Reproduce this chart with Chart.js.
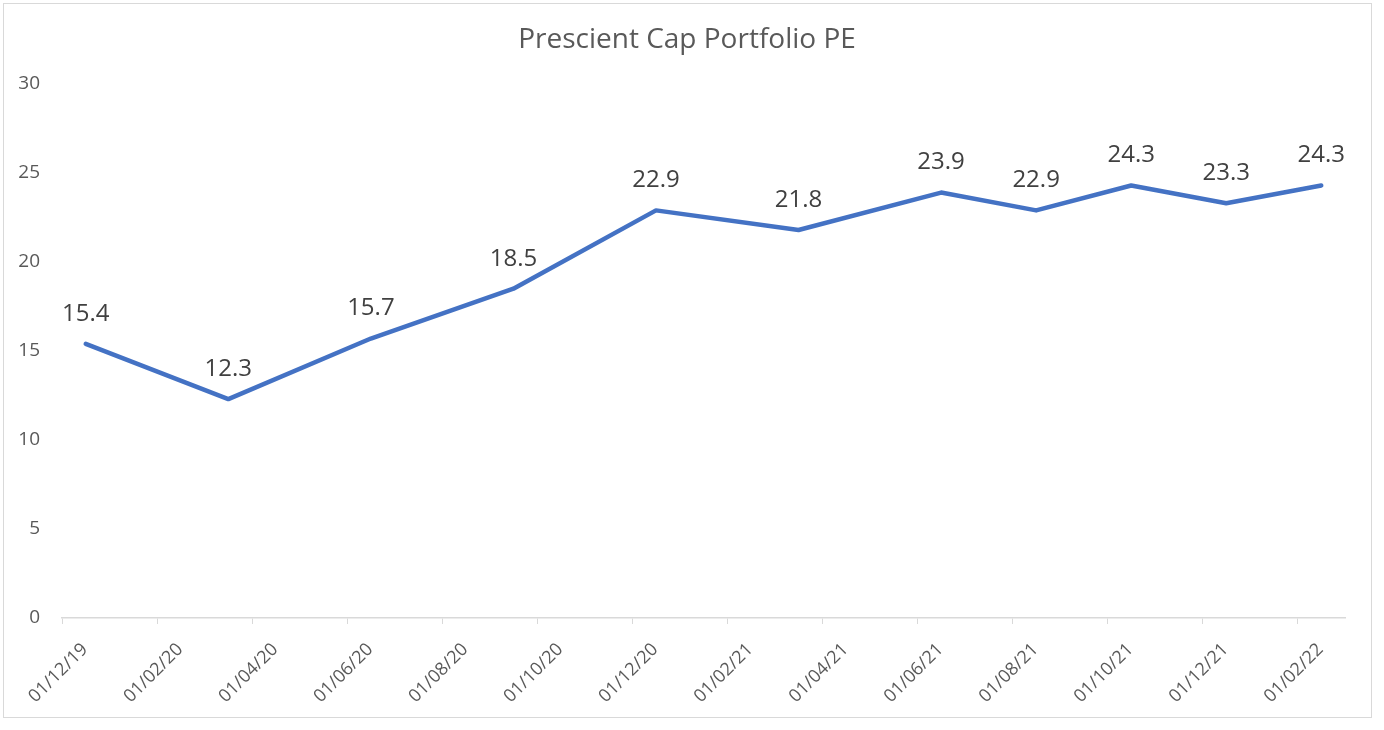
<!DOCTYPE html>
<html>
<head>
<meta charset="utf-8">
<script src="https://cdn.jsdelivr.net/npm/chart.js@4"></script>
<style>
  html, body { margin: 0; padding: 0; background: #ffffff; }
  #wrap { position: relative; width: 1384px; height: 730px; }
</style>
</head>
<body>
<div id="wrap"><canvas id="c" width="1384" height="730"></canvas></div>
<script>
// ---- Data ----
const chartTitle = 'Prescient Cap Portfolio PE';
const axisStartMonth = '2019-12';       // first month band of the date axis
const monthCount = 27;                  // Dec 2019 .. Feb 2022 (monthly bands)
const tickLabels = ['01/12/19','01/02/20','01/04/20','01/06/20','01/08/20','01/10/20','01/12/20',
                    '01/02/21','01/04/21','01/06/21','01/08/21','01/10/21','01/12/21','01/02/22'];
const dates = ['2019-12','2020-03','2020-06','2020-09','2020-12','2021-03','2021-06','2021-08','2021-10','2021-12','2022-02'];
const peValues = [15.4, 12.3, 15.7, 18.5, 22.9, 21.8, 23.9, 22.9, 24.3, 23.3, 24.3];
const yTicks = [0, 5, 10, 15, 20, 25, 30];

function monthIndex(d) {
  const [y, m] = d.split('-').map(Number);
  const [y0, m0] = axisStartMonth.split('-').map(Number);
  return (y - y0) * 12 + (m - m0);
}
const points = dates.map((d, i) => ({ x: monthIndex(d) + 0.5, y: peValues[i] }));

const FONT = '"Open Sans", "DejaVu Sans", sans-serif';

const framePlugin = {
  id: 'frame',
  beforeDraw(chart) {
    const ctx = chart.ctx;
    ctx.save();
    ctx.fillStyle = '#ffffff';
    ctx.fillRect(0, 0, chart.width, chart.height);
    ctx.strokeStyle = '#d9d9d9';
    ctx.lineWidth = 1;
    ctx.strokeRect(3.5, 3.5, 1368, 714);
    ctx.fillStyle = '#595959';
    ctx.font = '28px ' + FONT;
    ctx.textAlign = 'center';
    ctx.textBaseline = 'middle';
    ctx.fillText(chartTitle, 687, 40);
    ctx.restore();
  }
};

const labelPlugin = {
  id: 'dataLabels',
  afterDatasetsDraw(chart) {
    const ctx = chart.ctx;
    const meta = chart.getDatasetMeta(0);
    ctx.save();
    ctx.fillStyle = '#404040';
    ctx.font = '24px ' + FONT;
    ctx.textAlign = 'center';
    ctx.textBaseline = 'middle';
    meta.data.forEach((pt, i) => {
      ctx.fillText(peValues[i].toFixed(1), pt.x, pt.y - 30);
    });
    ctx.restore();
  }
};

new Chart(document.getElementById('c'), {
  type: 'line',
  data: {
    datasets: [{
      label: chartTitle,
      data: points,
      borderColor: '#4472C4',
      backgroundColor: '#4472C4',
      borderWidth: 4.5,
      borderCapStyle: 'round',
      borderJoinStyle: 'round',
      pointRadius: 0,
      pointHoverRadius: 0,
      tension: 0,
      fill: false
    }]
  },
  options: {
    responsive: false,
    animation: false,
    devicePixelRatio: 1,
    layout: { padding: { top: 84, right: 39, left: 0, bottom: 0 } },
    plugins: {
      legend: { display: false },
      title: { display: false },
      tooltip: { enabled: false }
    },
    scales: {
      x: {
        type: 'linear',
        min: 0,
        max: monthCount,
        afterFit(scale) {
          scale.height = 112;
          scale.paddingLeft = 0;
          scale.paddingRight = 0;
        },
        afterBuildTicks(scale) {
          scale.ticks = tickLabels.map((t, i) => ({ value: i * 2 }));
        },
        grid: {
          display: true,
          drawOnChartArea: false,
          drawTicks: true,
          tickLength: 6,
          color: '#d9d9d9',
          tickColor: '#d9d9d9'
        },
        border: { display: true, color: '#d9d9d9', width: 1.5 },
        ticks: {
          autoSkip: false,
          includeBounds: false,
          maxRotation: 45,
          minRotation: 45,
          padding: 15,
          labelOffset: 23,
          color: '#595959',
          font: { family: FONT, size: 18 },
          callback: (v) => tickLabels[Math.round(v / 2)] || ''
        }
      },
      y: {
        type: 'linear',
        min: 0,
        max: 30,
        afterFit(scale) { scale.width = 62; scale.paddingTop = 0; scale.paddingBottom = 0; },
        afterBuildTicks(scale) {
          scale.ticks = yTicks.map(v => ({ value: v }));
        },
        grid: { display: false },
        border: { display: false },
        ticks: {
          padding: 14,
          color: '#595959',
          font: { family: FONT, size: 19 }
        }
      }
    }
  },
  plugins: [framePlugin, labelPlugin]
});
</script>
</body>
</html>
